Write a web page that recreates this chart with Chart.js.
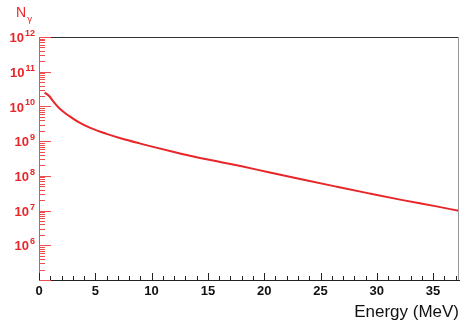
<!DOCTYPE html>
<html>
<head>
<meta charset="utf-8">
<script src="https://cdn.jsdelivr.net/npm/chart.js@4/dist/chart.umd.min.js"></script>
<style>
  html, body { margin: 0; padding: 0; background: #fff; }
  #wrap { width: 461px; height: 323px; }
</style>
</head>
<body>
<div id="wrap"><canvas id="chart"></canvas></div>
<script>
// Data
const energies = [0.5, 0.9, 1.3, 1.8, 2.7, 3.6, 4.5, 6, 7.4, 9, 10.4, 12, 13.4, 15, 16.3, 18,
  20.4, 23.4, 26.4, 29.3, 32.3, 35.3, 37.3];
const photons = [2.5e10, 2.0e10, 1.35e10, 8.9e9, 5.25e9, 3.4e9, 2.45e9, 1.62e9, 1.17e9, 8.5e8, 6.5e8,
  4.85e8, 3.8e8, 2.95e8, 2.43e8, 1.88e8, 1.27e8, 7.85e7, 4.9e7, 3.13e7, 2.0e7, 1.32e7, 9.8e6];
const xMajorTicks = [0, 5, 10, 15, 20, 25, 30, 35];
const yExponents = [6, 7, 8, 9, 10, 11, 12];

const RED = '#e8262a';

const points = energies.map((e, i) => ({ x: e, y: photons[i] }));

// Ticks drawn inside the frame, plus labels and titles
const framePlugin = {
  id: 'frame',
  afterDraw(chart) {
    const ctx = chart.ctx;
    const area = chart.chartArea;
    const xs = chart.scales.x;
    const ys = chart.scales.y;
    ctx.save();

    // top and right frame
    ctx.lineWidth = 1;
    ctx.strokeStyle = '#333';
    ctx.beginPath();
    ctx.moveTo(area.left, area.top + 0.5);
    ctx.lineTo(area.right, area.top + 0.5);
    ctx.stroke();
    ctx.strokeStyle = '#999';
    ctx.beginPath();
    ctx.moveTo(area.right - 0.5, area.top);
    ctx.lineTo(area.right - 0.5, area.bottom);
    ctx.stroke();

    // x ticks
    ctx.strokeStyle = '#222';
    xs.ticks.forEach(t => {
      const px = Math.round(xs.getPixelForValue(t.value)) + 0.5;
      const len = xMajorTicks.includes(t.value) ? 7 : 4;
      ctx.beginPath();
      ctx.moveTo(px, area.bottom);
      ctx.lineTo(px, area.bottom - len);
      ctx.stroke();
    });

    // y ticks
    ctx.strokeStyle = '#ee4d4d';
    ys.ticks.forEach(t => {
      const py = Math.round(ys.getPixelForValue(t.value)) + 0.5;
      const major = Math.abs(Math.log10(t.value) - Math.round(Math.log10(t.value))) < 1e-6;
      const len = major ? 12 : 6;
      ctx.beginPath();
      ctx.moveTo(area.left, py);
      ctx.lineTo(area.left + len, py);
      ctx.stroke();
    });

    // y labels 10^n
    ctx.fillStyle = RED;
    yExponents.forEach(n => {
      const py = ys.getPixelForValue(Math.pow(10, n));
      ctx.font = 'bold 9px "Liberation Sans", Arial, sans-serif';
      ctx.textAlign = 'right';
      ctx.textBaseline = 'alphabetic';
      const expW = ctx.measureText(String(n)).width;
      ctx.fillText(String(n), 35, py - 1);
      ctx.font = 'bold 13px "Liberation Sans", Arial, sans-serif';
      ctx.textBaseline = 'middle';
      ctx.fillText('10', 35 - expW - 1, py + 1.5);
    });

    // y title
    ctx.textAlign = 'left';
    ctx.textBaseline = 'alphabetic';
    ctx.font = '14px "Liberation Sans", Arial, sans-serif';
    ctx.fillText('N', 16, 17);
    ctx.font = '9px "DejaVu Sans", sans-serif';
    ctx.fillText('\u03b3', 27, 22);

    // x title
    ctx.fillStyle = '#111';
    ctx.textAlign = 'right';
    ctx.font = '17px "Liberation Sans", Arial, sans-serif';
    ctx.fillText('Energy (MeV)', 459, 317);

    ctx.restore();
  }
};

new Chart(document.getElementById('chart'), {
  type: 'line',
  data: {
    datasets: [{
      data: points,
      borderColor: RED,
      borderWidth: 2,
      pointRadius: 0,
      cubicInterpolationMode: 'monotone',
      fill: false
    }]
  },
  options: {
    responsive: true,
    maintainAspectRatio: false,
    animation: false,
    events: [],
    layout: { padding: { top: 37, right: 2, left: 0, bottom: 0 } },
    plugins: { legend: { display: false }, tooltip: { enabled: false } },
    scales: {
      x: {
        type: 'linear',
        min: 0,
        max: 37.3,
        afterBuildTicks(scale) {
          const ticks = [];
          for (let v = 0; v <= 37; v++) ticks.push({ value: v });
          scale.ticks = ticks;
        },
        afterFit(scale) { scale.height = 43; },
        grid: { display: false, drawTicks: false },
        border: { display: true, color: '#222', width: 1 },
        ticks: {
          autoSkip: false,
          maxRotation: 0,
          padding: 4,
          color: '#111',
          font: { family: '"Liberation Sans", Arial, sans-serif', size: 13, weight: 'bold' },
          callback: v => (xMajorTicks.includes(v) ? String(v) : '')
        }
      },
      y: {
        type: 'logarithmic',
        min: 1e5,
        max: 1e12,
        afterBuildTicks(scale) {
          const ticks = [];
          for (let n = 5; n < 12; n++) {
            for (let m = 1; m <= 9; m++) ticks.push({ value: m * Math.pow(10, n) });
          }
          ticks.push({ value: 1e12 });
          scale.ticks = ticks;
        },
        afterFit(scale) { scale.width = 39; },
        grid: { display: false, drawTicks: false },
        border: { display: true, color: '#ee4d4d', width: 1 },
        ticks: { display: false }
      }
    }
  },
  plugins: [framePlugin]
});
</script>
</body>
</html>
